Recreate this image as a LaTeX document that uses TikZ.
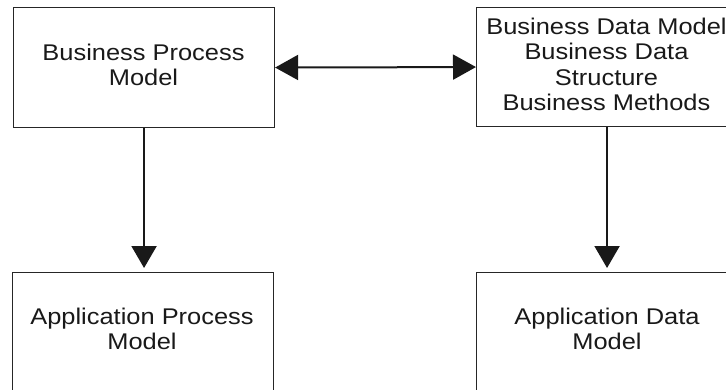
\documentclass[tikz,border=0pt]{standalone}
\usepackage{fontspec}
\setmainfont{Liberation Sans}[FakeStretch=1.12]
\usetikzlibrary{arrows.meta}
\begin{document}
\begin{tikzpicture}[x=1pt,y=-1pt,
  box/.style={draw=black!85, line width=1.1pt, minimum width=261pt,
    minimum height=120pt, inner sep=0pt, anchor=north west},
  lbl/.style={align=center, font=\fontsize{22.7}{25.5}\selectfont,
    text=black!90, inner sep=0pt},
  link/.style={line width=2pt, draw=black!90, -{Triangle[length=22pt,width=25pt]}}]
\useasboundingbox (0,0) rectangle (726,389);
\clip (0,0) rectangle (726,389);

% boxes
\node[box] (bpm) at (13,7) {};
\node[box, minimum height=119pt] (bdm) at (476,7) {};
\node[box, minimum height=130pt] (apm) at (12,272) {};
\node[box, minimum height=130pt] (adm) at (476,272) {};

% labels
\node[lbl] (bpmt) at (143.5,65) {Business Process\\Model};
\node[lbl] (bdmt) at (606.5,64.5) {Business Data Model\\Business Data\\Structure\\Business Methods};
\node[lbl] (apmt) at (142,329) {Application Process\\Model};
\node[lbl] (admt) at (607,329) {Application Data\\Model};

% connectors
\draw[link, {Triangle[length=23pt,width=25pt]}-{Triangle[length=23pt,width=25pt]}]
  (bpm.east) -- (bdm.west);
\draw[link, shorten >=4pt] (bpm.south) -- (bpm.south |- apm.north);
\draw[link, shorten >=4pt] (bdm.south) -- (bdm.south |- adm.north);
\end{tikzpicture}
\end{document}
